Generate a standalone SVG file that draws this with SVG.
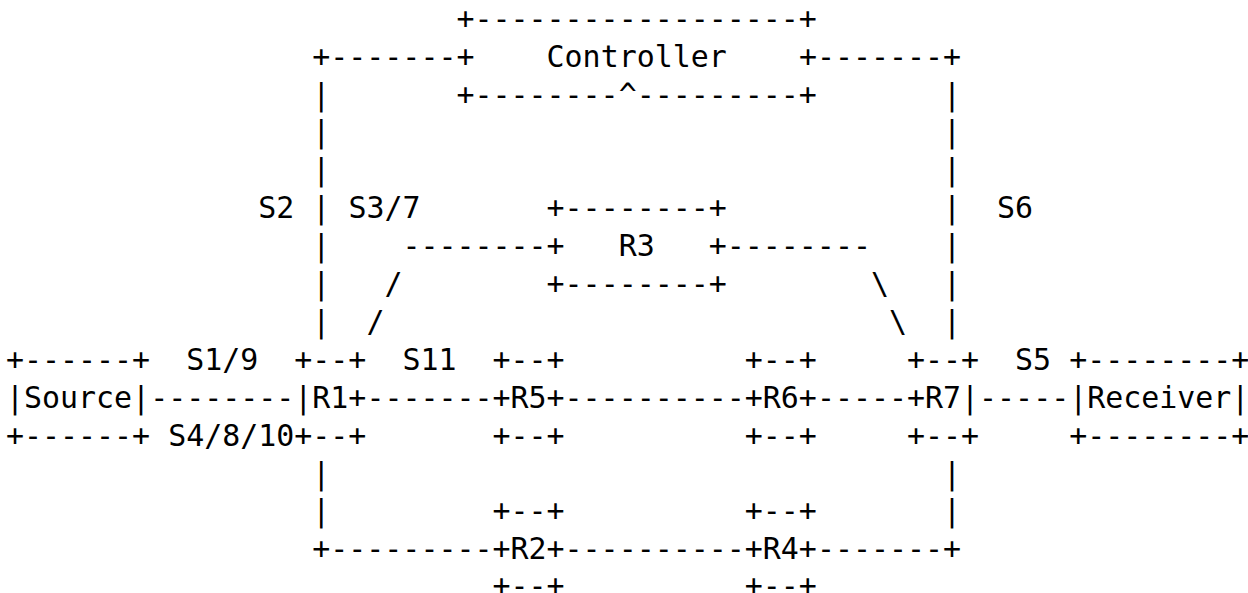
<svg xmlns="http://www.w3.org/2000/svg" width="1248" height="593" viewBox="0 0 1248 593">
<style>
text{font-family:"DejaVu Sans Mono","Liberation Mono",monospace;font-size:29.93px;fill:#000;white-space:pre}
</style>
<rect width="1248" height="593" fill="#fff"/>
<g transform="translate(0,1.5)">
<g id="connectors">
<text x="312.3" y="65.1">+-------</text>
<text x="816.9" y="65.1">-------+</text>
<text x="312.3" y="103.0">|</text><text x="943" y="103.0">|</text>
<text x="312.3" y="140.9">|</text><text x="943" y="140.9">|</text>
<text x="312.3" y="178.8">|</text><text x="943" y="178.8">|</text>
<text x="312.3" y="216.7">|</text><text x="943" y="216.7">|</text>
<text x="312.3" y="254.6">|</text><text x="943" y="254.6">|</text>
<text x="312.3" y="292.5">|</text><text x="943" y="292.5">|</text>
<text x="312.3" y="330.4">|</text><text x="943" y="330.4">|</text>
<text x="402.4" y="254.6">--------</text>
<text x="726.8" y="254.6">--------</text>
<text x="384.4" y="292.5">/</text>
<text x="366.4" y="330.4">/</text>
<text x="871" y="292.5">\</text>
<text x="889" y="330.4">\</text>
<text x="150.2" y="406.2">--------</text>
<text x="366.4" y="406.2">-------</text>
<text x="564.6" y="406.2">----------</text>
<text x="816.9" y="406.2">-----</text>
<text x="979.1" y="406.2">-----</text>
<text x="312.3" y="482.0">|</text><text x="943" y="482.0">|</text>
<text x="312.3" y="519.9">|</text><text x="943" y="519.9">|</text>
<text x="312.3" y="557.8">+---------</text>
<text x="564.6" y="557.8">----------</text>
<text x="816.9" y="557.8">-------+</text>
</g>
<g id="controller">
<text x="456.5" y="27.2">+------------------+</text>
<text x="456.5" y="65.1">+</text>
<text x="546.6" y="65.1">Controller</text>
<text x="798.9" y="65.1">+</text>
<text x="456.5" y="103.0">+--------^---------+</text>
</g>
<g id="R3">
<text x="546.6" y="216.7">+--------+</text>
<text x="546.6" y="254.6">+</text>
<text x="618.7" y="254.6">R3</text>
<text x="708.8" y="254.6">+</text>
<text x="546.6" y="292.5">+--------+</text>
</g>
<g id="source">
<text x="6" y="368.3">+------+</text>
<text x="6" y="406.2">|Source|</text>
<text x="6" y="444.1">+------+</text>
</g>
<g id="R1">
<text x="294.3" y="368.3">+--+</text>
<text x="294.3" y="406.2">|R1+</text>
<text x="294.3" y="444.1">+--+</text>
</g>
<g id="R5">
<text x="492.5" y="368.3">+--+</text>
<text x="492.5" y="406.2">+R5+</text>
<text x="492.5" y="444.1">+--+</text>
</g>
<g id="R6">
<text x="744.8" y="368.3">+--+</text>
<text x="744.8" y="406.2">+R6+</text>
<text x="744.8" y="444.1">+--+</text>
</g>
<g id="R7">
<text x="907" y="368.3">+--+</text>
<text x="907" y="406.2">+R7|</text>
<text x="907" y="444.1">+--+</text>
</g>
<g id="receiver">
<text x="1069.2" y="368.3">+--------+</text>
<text x="1069.2" y="406.2">|Receiver|</text>
<text x="1069.2" y="444.1">+--------+</text>
</g>
<g id="R2">
<text x="492.5" y="519.9">+--+</text>
<text x="492.5" y="557.8">+R2+</text>
<text x="492.5" y="594.2">+--+</text>
</g>
<g id="R4">
<text x="744.8" y="519.9">+--+</text>
<text x="744.8" y="557.8">+R4+</text>
<text x="744.8" y="594.2">+--+</text>
</g>
<g id="labels">
<text x="258.3" y="216.7">S2</text>
<text x="348.4" y="216.7">S3/7</text>
<text x="997.1" y="216.7">S6</text>
<text x="186.2" y="368.3">S1/9</text>
<text x="402.4" y="368.3">S11</text>
<text x="1015.1" y="368.3">S5</text>
<text x="168.2" y="444.1">S4/8/10</text>
</g>
</g>
</svg>
